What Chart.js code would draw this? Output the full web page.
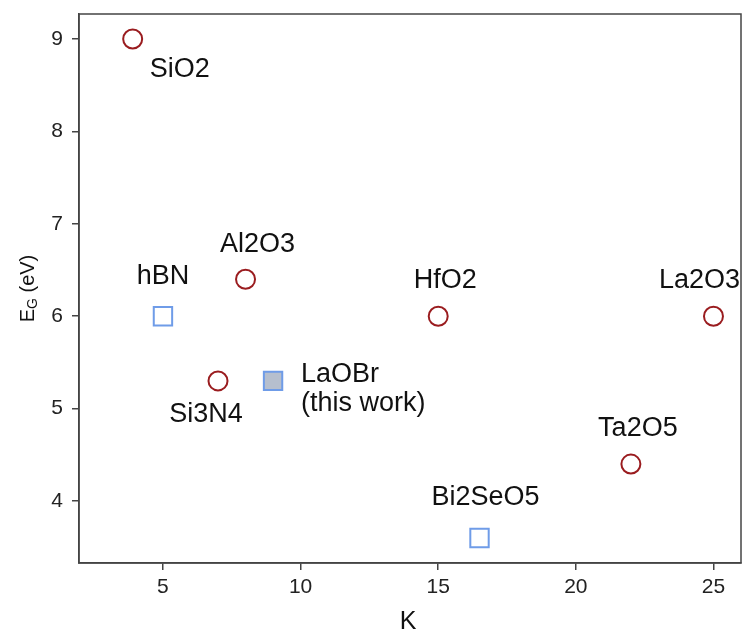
<!DOCTYPE html>
<html>
<head>
<meta charset="utf-8">
<script src="https://cdn.jsdelivr.net/npm/chart.js@4/dist/chart.umd.min.js"></script>
<style>
  html, body { margin: 0; padding: 0; background: #fff; }
  #wrap { width: 745px; height: 634px; }
</style>
</head>
<body>
<div id="wrap"><canvas id="bandChart"></canvas></div>
<script>
// oxides (open circles)
const oxideNames = ['SiO2', 'Al2O3', 'Si3N4', 'HfO2', 'Ta2O5', 'La2O3'];
const oxideK = [3.9, 8, 7, 15, 22, 25];
const oxideEg = [9, 6.4, 5.3, 6, 4.4, 6];

// 2D dielectrics (squares)
const sheetNames = ['hBN', 'LaOBr\n(this work)', 'Bi2SeO5'];
const sheetK = [5, 9, 16.5];
const sheetEg = [6, 5.3, 3.6];

const xTicks = [5, 10, 15, 20, 25];
const yTicks = [4, 5, 6, 7, 8, 9];

// label placement relative to the marker (px)
const labelPlace = {
    'SiO2': { dx: 47, dy: 31, align: 'center' },
    'Al2O3': { dx: 12, dy: -35, align: 'center' },
    'Si3N4': { dx: -12, dy: 34, align: 'center' },
    'HfO2': { dx: 7, dy: -36, align: 'center' },
    'Ta2O5': { dx: 7, dy: -36, align: 'center' },
    'La2O3': { dx: -14, dy: -36, align: 'center' },
    'hBN': { dx: 0, dy: -40, align: 'center' },
    'LaOBr\n(this work)': { dx: 28, dy: -6, align: 'left' },
    'Bi2SeO5': { dx: 6, dy: -40, align: 'center' }
};

const FONT = '"Liberation Sans", Arial, sans-serif';
const RED = '#9a1c1f';
const BLUE = '#6f9ce8';

const pointLabels = {
    id: 'pointLabels',
    afterDatasetsDraw(chart) {
        const ctx = chart.ctx;
        const x = chart.scales.x;
        const y = chart.scales.y;
        ctx.save();
        ctx.fillStyle = '#111';
        ctx.font = '27px ' + FONT;
        ctx.textBaseline = 'middle';
        const put = (names, ks, egs) => {
            names.forEach((name, i) => {
                const p = labelPlace[name];
                const px = x.getPixelForValue(ks[i]) + p.dx;
                const py = y.getPixelForValue(egs[i]) + p.dy;
                ctx.textAlign = p.align;
                name.split('\n').forEach((line, j) => ctx.fillText(line, px, py + j * 29));
            });
        };
        put(oxideNames, oxideK, oxideEg);
        put(sheetNames, sheetK, sheetEg);
        ctx.restore();
    }
};

const frameAndTitles = {
    id: 'frameAndTitles',
    afterDraw(chart) {
        const ctx = chart.ctx;
        const a = chart.chartArea;
        ctx.save();
        ctx.strokeStyle = '#444';
        ctx.lineWidth = 1.5;
        ctx.strokeRect(a.left, a.top, a.right - a.left, a.bottom - a.top);

        ctx.fillStyle = '#111';
        ctx.textBaseline = 'middle';
        ctx.textAlign = 'center';
        ctx.font = '25px ' + FONT;
        ctx.fillText('K', (a.left + a.right) / 2 - 2, 622);

        // y title with subscript
        ctx.translate(27, (a.top + a.bottom) / 2);
        ctx.rotate(-Math.PI / 2);
        ctx.textAlign = 'left';
        ctx.textBaseline = 'alphabetic';
        ctx.font = '20px ' + FONT;
        const wE = ctx.measureText('E').width;
        const wRest = ctx.measureText(' (eV)').width;
        ctx.font = '14px ' + FONT;
        const wG = ctx.measureText('G').width;
        let cx = -(wE + wG + wRest) / 2;
        const base = 7;
        ctx.font = '20px ' + FONT;
        ctx.fillText('E', cx, base);
        cx += wE;
        ctx.font = '14px ' + FONT;
        ctx.fillText('G', cx, base + 3);
        cx += wG;
        ctx.font = '20px ' + FONT;
        ctx.fillText(' (eV)', cx, base);
        ctx.restore();
    }
};

const axisCommon = {
    type: 'linear',
    grid: { drawOnChartArea: false, drawTicks: true, tickLength: 7, color: '#444', lineWidth: 1.5 },
    border: { display: true, color: '#444', width: 1.5 }
};

new Chart(document.getElementById('bandChart'), {
    type: 'scatter',
    data: {
        datasets: [
            {
                label: 'oxides',
                data: oxideK.map((k, i) => ({ x: k, y: oxideEg[i] })),
                pointStyle: 'circle',
                pointRadius: 9.5,
                pointBorderWidth: 2,
                pointBorderColor: RED,
                pointBackgroundColor: 'rgba(255,255,255,0)'
            },
            {
                label: '2D',
                data: sheetK.map((k, i) => ({ x: k, y: sheetEg[i] })),
                pointStyle: 'rect',
                pointRadius: 13,
                pointBorderWidth: 2,
                pointBorderColor: BLUE,
                pointBackgroundColor: sheetNames.map(n => n.startsWith('LaOBr') ? '#b6bfce' : 'rgba(255,255,255,0)')
            }
        ]
    },
    options: {
        responsive: true,
        maintainAspectRatio: false,
        animation: false,
        layout: { autoPadding: false, padding: { top: 14, right: 4, left: 0, bottom: 0 } },
        plugins: { legend: { display: false }, tooltip: { enabled: false } },
        scales: {
            x: {
                ...axisCommon,
                min: 1.95,
                max: 26,
                afterBuildTicks: s => { s.ticks = xTicks.map(v => ({ value: v })); },
                afterFit: s => { s.height = 71; s.paddingLeft = 0; s.paddingRight = 0; },
                ticks: { color: '#222', padding: 5, font: { size: 21, family: FONT } }
            },
            y: {
                ...axisCommon,
                min: 3.33,
                max: 9.27,
                afterBuildTicks: s => { s.ticks = yTicks.map(v => ({ value: v })); },
                afterFit: s => { s.width = 79; s.paddingTop = 0; s.paddingBottom = 0; },
                ticks: { color: '#222', padding: 9, font: { size: 21, family: FONT } }
            }
        }
    },
    plugins: [pointLabels, frameAndTitles]
});
</script>
</body>
</html>
